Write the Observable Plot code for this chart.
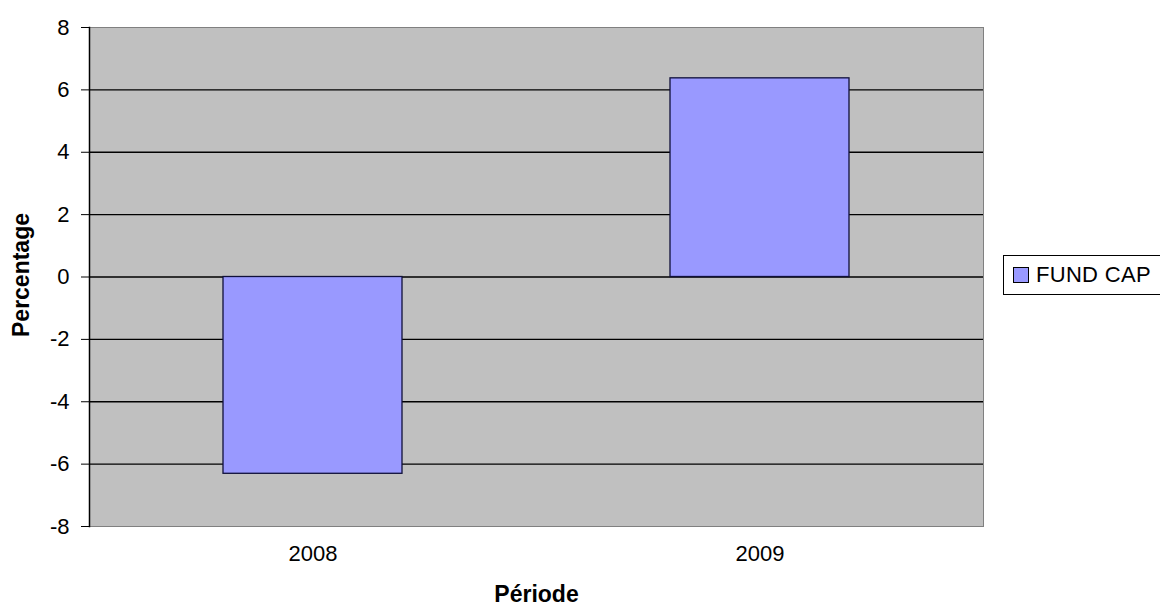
<!DOCTYPE html>
<html>
<head>
<meta charset="utf-8">
<script src="https://cdn.jsdelivr.net/npm/d3@7"></script>
<script src="https://cdn.jsdelivr.net/npm/@observablehq/plot@0.6"></script>
<style>
  html, body { margin: 0; padding: 0; background: #fff; }
  #wrap { position: relative; width: 1160px; height: 607px; overflow: hidden; font-family: "Liberation Sans", Arial, sans-serif; }
  #legend { position: absolute; left: 1003px; top: 255px; width: 160px; height: 40px; border: 1px solid #000; background: #fff; box-sizing: border-box; display: flex; align-items: center; }
  #legend .sw { width: 14px; height: 14px; background: #9999ff; border: 1px solid #000; margin-left: 9px; margin-right: 7px; }
  #legend .lb { font-size: 22px; color: #000; letter-spacing: 0.3px; }
</style>
</head>
<body>
<div id="wrap"></div>
<script>
const periods = ["2008", "2009"];
const fundCap = [-6.31, 6.37];
const yTicks = [-8, -6, -4, -2, 0, 2, 4, 6, 8];
const gridTicks = [-6, -4, -2, 0, 2, 4, 6];
const seriesName = "FUND CAP";
const xTitle = "Période";
const yTitle = "Percentage";

const data = periods.map((p, i) => ({period: p, value: fundCap[i]}));

const chart = Plot.plot({
  width: 1160,
  height: 607,
  marginLeft: 89,
  marginRight: 177,
  marginTop: 27,
  marginBottom: 81,
  style: {fontFamily: "'Liberation Sans', Arial, sans-serif", fontSize: "22px", color: "#000", background: "#fff"},
  x: {domain: periods, paddingInner: 0.6, paddingOuter: 0.3, label: null},
  y: {domain: [-8, 8], label: null},
  marks: [
    Plot.frame({fill: "#c0c0c0", stroke: "#808080"}),
    Plot.ruleY(gridTicks, {stroke: "#000", strokeWidth: 1.3}),
    Plot.barY(data, {x: "period", y: "value", fill: "#9999ff", stroke: "#10103a", strokeWidth: 1.3}),
    Plot.frame({anchor: "left", stroke: "#000", strokeWidth: 1.5}),
    Plot.axisY({ticks: yTicks, tickSize: 8, tickPadding: 12, label: null, tickFormat: d => String(d)}),
    Plot.axisX({tickSize: 0, tickPadding: 19, label: null}),
    Plot.text([yTitle], {frameAnchor: "left", textAnchor: "middle", dx: -68, dy: -2, rotate: -90, fontWeight: "bold", fontSize: 23}),
    Plot.text([xTitle], {frameAnchor: "bottom", dy: 75, fontWeight: "bold", fontSize: 23})
  ]
});

const wrap = document.getElementById("wrap");
wrap.appendChild(chart);
const legend = document.createElement("div");
legend.id = "legend";
legend.innerHTML = `<div class="sw"></div><div class="lb">${seriesName}</div>`;
wrap.appendChild(legend);
</script>
</body>
</html>
